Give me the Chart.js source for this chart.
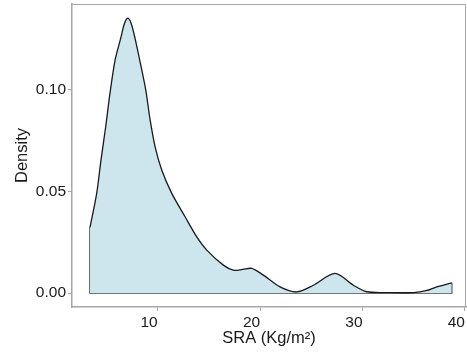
<!DOCTYPE html>
<html>
<head>
<meta charset="utf-8">
<script src="https://cdn.jsdelivr.net/npm/chart.js@4/dist/chart.umd.min.js"></script>
<style>
  html, body { margin: 0; padding: 0; background: #fff; }
  #wrap { width: 467px; height: 356px; }
</style>
</head>
<body>
<div id="wrap"><canvas id="density"></canvas></div>
<script>
// Estimated density curve of SRA (Kg/m²)
const SRA = [3.39, 4.04, 4.46, 4.92, 5.34, 5.84, 6.39, 6.75, 7.07, 7.4, 7.78, 8.34, 8.83, 9.25, 9.74, 10.39,
  11.37, 12.67, 13.81, 14.79, 16.41, 17.38, 18.3, 19.18, 20.31, 21.94, 23.57, 25.2,
  27.31, 29.1, 30.41, 32.5, 35.0, 36.2, 37.25, 38.71];
const DENSITY = [0.0324, 0.0491, 0.0655, 0.0819, 0.0984, 0.1148, 0.1255, 0.1327, 0.1353, 0.1328, 0.1255, 0.1123, 0.100, 0.0855, 0.0721, 0.0606,
  0.0491, 0.0376, 0.0277, 0.0212, 0.0138, 0.0113, 0.0117, 0.0122, 0.0089, 0.0031, 0.0006, 0.0039,
  0.0097, 0.0039, 0.0007, 0.0003, 0.0003, 0.0012, 0.0031, 0.0051];

const X_TICKS = [10, 20, 30, 40];
const Y_TICKS = [0, 0.05, 0.10];
const Y_LABELS = ['0.00', '0.05', '0.10'];

const AXIS_GREY = '#a6a6a6';
const TEXT = '#1a1a1a';
const TICK_FONT = { family: '"Liberation Sans", Arial, sans-serif', size: 15.5 };
const TITLE_FONT = { family: '"Liberation Sans", Arial, sans-serif', size: 16.5 };

const curve = SRA.map((x, i) => ({ x, y: DENSITY[i] }));
const last = SRA.length - 1;
// vertical ends + baseline of the density polygon
const edges = [
  { x: SRA[0], y: DENSITY[0] },
  { x: SRA[0], y: 0 },
  { x: SRA[last], y: 0 },
  { x: SRA[last], y: DENSITY[last] },
];

const panelBorder = {
  id: 'panelBorder',
  afterDraw(chart) {
    const { ctx, chartArea: a } = chart;
    ctx.save();
    ctx.strokeStyle = AXIS_GREY;
    ctx.lineWidth = 1;
    ctx.beginPath();
    ctx.moveTo(a.left, a.top + 0.5);
    ctx.lineTo(a.right - 0.5, a.top + 0.5);
    ctx.lineTo(a.right - 0.5, a.bottom);
    ctx.stroke();
    ctx.restore();
  },
};

new Chart(document.getElementById('density'), {
  type: 'line',
  data: {
    datasets: [
      {
        data: curve,
        borderColor: TEXT,
        borderWidth: 1.3,
        backgroundColor: '#cde6ee',
        fill: 'origin',
        pointRadius: 0,
        tension: 0.3,
      },
      {
        data: edges,
        borderColor: TEXT,
        borderWidth: 1.3,
        fill: false,
        pointRadius: 0,
        tension: 0,
      },
    ],
  },
  plugins: [panelBorder],
  options: {
    responsive: true,
    maintainAspectRatio: false,
    animation: false,
    layout: { padding: { top: 4, right: 1, left: 0, bottom: 0 } },
    plugins: { legend: { display: false }, tooltip: { enabled: false } },
    scales: {
      x: {
        type: 'linear',
        min: 1.63,
        max: 40.1,
        afterBuildTicks: s => { s.ticks = X_TICKS.map(v => ({ value: v })); },
        afterFit: s => { s.height = 49; s.paddingLeft = 0; s.paddingRight = 0; },
        grid: { display: true, drawOnChartArea: false, drawTicks: true, tickLength: 4, color: AXIS_GREY },
        border: { display: true, color: AXIS_GREY, width: 1.5 },
        ticks: { color: TEXT, font: TICK_FONT, padding: 2, align: 'end', maxRotation: 0 },
        title: { display: true, text: 'SRA (Kg/m²)', color: TEXT, font: TITLE_FONT, padding: { top: 0, bottom: 8 } },
      },
      y: {
        min: -0.0068,
        max: 0.1423,
        afterBuildTicks: s => { s.ticks = Y_TICKS.map(v => ({ value: v })); },
        afterFit: s => { s.width = 72; s.paddingTop = 0; s.paddingBottom = 0; },
        grid: { display: true, drawOnChartArea: false, drawTicks: true, tickLength: 4, color: AXIS_GREY },
        border: { display: true, color: AXIS_GREY, width: 1.5 },
        ticks: {
          color: TEXT,
          font: TICK_FONT,
          padding: 2,
          callback: v => Y_LABELS[Y_TICKS.findIndex(t => Math.abs(t - v) < 1e-9)],
        },
        title: { display: true, text: 'Density', color: TEXT, font: TITLE_FONT, padding: { top: 13, bottom: 0 } },
      },
    },
  },
});
</script>
</body>
</html>
